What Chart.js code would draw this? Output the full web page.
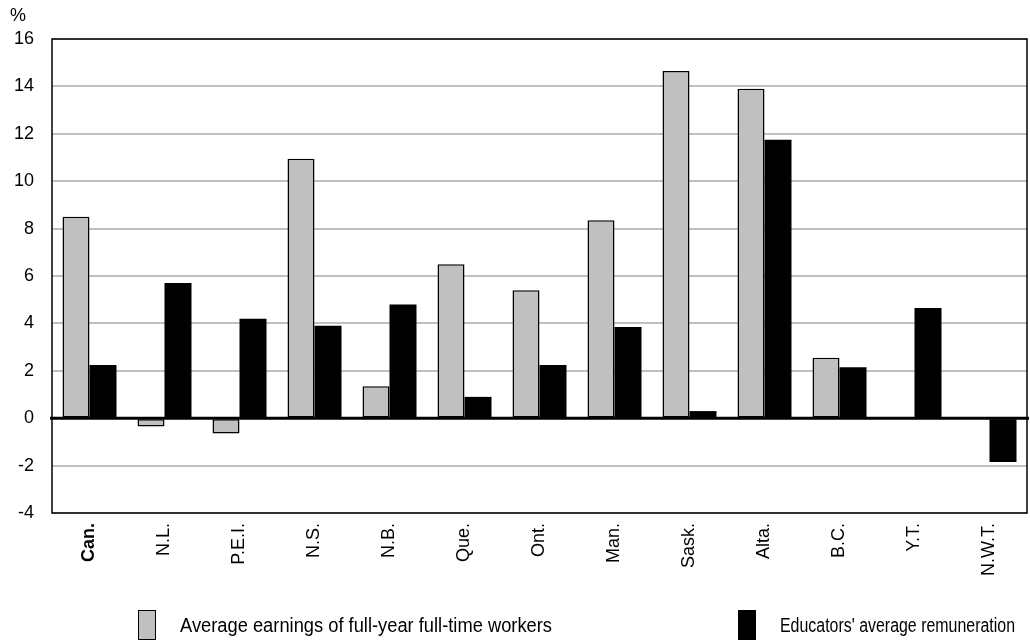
<!DOCTYPE html>
<html>
<head>
<meta charset="utf-8">
<script src="https://cdn.jsdelivr.net/npm/chart.js@4.4.0/dist/chart.umd.min.js"></script>
<style>
  body { margin: 0; background: #fff; }
  #wrap { position: relative; width: 1030px; height: 644px; }
  #unit { position: absolute; left: 10px; top: 5px; font: 18px 'Liberation Sans', Arial, sans-serif; color: #000; }
  #legend { position: absolute; top: 610px; left: 0; width: 1030px; height: 30px;
            font: 20px 'Liberation Sans Narrow', 'Liberation Sans', Arial, sans-serif; color: #000; }
  .item { position: absolute; top: 0; display: flex; align-items: center; height: 30px; white-space: nowrap; }
  .box { width: 16px; height: 28px; border: 1px solid #000; margin-right: 24px; flex: none; }
  .item span { display: inline-block; transform-origin: left center; }
</style>
</head>
<body>
<div id="wrap">
  <canvas id="chart" width="1030" height="644"></canvas>
  <div id="unit">%</div>
  <div id="legend"></div>
</div>
<script>
// -------------------------------
// Data
// -------------------------------
const categories = ["Can.", "N.L.", "P.E.I.", "N.S.", "N.B.", "Que.", "Ont.", "Man.", "Sask.", "Alta.", "B.C.", "Y.T.", "N.W.T."];
const fullTimeEarnings = [8.5, -0.35, -0.65, 10.95, 1.35, 6.5, 5.4, 8.35, 14.65, 13.9, 2.55, null, null];
const educatorsPay = [2.25, 5.7, 4.2, 3.9, 4.8, 0.9, 2.25, 3.85, 0.3, 11.75, 2.15, 4.65, -1.85];
const seriesNames = ["Average earnings of full-year full-time workers", "Educators' average remuneration"];
const yTicks = { min: -4, max: 16, step: 2 };

const narrow = "'Liberation Sans Narrow', 'Liberation Sans', Arial, sans-serif";

// frame round the plot area
const frame = {
    id: 'frame',
    afterDraw(chart) {
        const a = chart.chartArea, c = chart.ctx;
        c.save();
        c.strokeStyle = '#000';
        c.lineWidth = 1.5;
        c.strokeRect(a.left, a.top, a.right - a.left, a.bottom - a.top);
        // zero line on top of bars
        const y0 = chart.scales.y.getPixelForValue(0);
        c.lineWidth = 3;
        c.beginPath();
        c.moveTo(a.left - 2, y0);
        c.lineTo(a.right + 2, y0);
        c.stroke();
        c.restore();
    }
};

const ctx = document.getElementById('chart').getContext('2d');
const chart = new Chart(ctx, {
    type: 'bar',
    data: {
        labels: categories,
        datasets: [
            {
                label: seriesNames[0],
                data: fullTimeEarnings,
                backgroundColor: '#c0c0c0',
                borderColor: '#000',
                borderWidth: 1.5,
                borderSkipped: false
            },
            {
                label: seriesNames[1],
                data: educatorsPay,
                backgroundColor: '#000',
                borderColor: '#000',
                borderWidth: 0
            }
        ]
    },
    plugins: [frame],
    options: {
        responsive: false,
        animation: false,
        layout: { padding: { top: 39, right: 3, left: 0, bottom: 0 } },
        datasets: { bar: { categoryPercentage: 0.72, barPercentage: 1.0 } },
        plugins: {
            legend: { display: false },
            tooltip: { enabled: false }
        },
        scales: {
            x: {
                grid: { display: false },
                border: { display: false },
                ticks: {
                    color: '#000',
                    minRotation: 90,
                    maxRotation: 90,
                    padding: 2,
                    font: c => ({ family: narrow, size: 18, weight: c.index === 0 ? 'bold' : 'normal' })
                },
                afterFit: s => { s.height = 131; }
            },
            y: {
                min: yTicks.min,
                max: yTicks.max,
                ticks: {
                    stepSize: yTicks.step,
                    color: '#000',
                    padding: 18,
                    font: { family: "'Liberation Sans', Arial, sans-serif", size: 18 }
                },
                grid: { color: '#c0c0c0', lineWidth: 2, drawTicks: false },
                border: { display: false },
                afterFit: s => { s.width = 52; }
            }
        }
    }
});

// -------------------------------
// Legend (real text, laid out under the chart)
// -------------------------------
const legend = document.getElementById('legend');
const legendLeft = [138, 738];
const legendTextWidth = [372, 235];
const legendFill = ['#c0c0c0', '#000'];
seriesNames.forEach((name, i) => {
    const item = document.createElement('div');
    item.className = 'item';
    item.style.left = legendLeft[i] + 'px';
    item.innerHTML = `<div class="box" style="background:${legendFill[i]}"></div><span>${name}</span>`;
    legend.appendChild(item);
    // squeeze text to the condensed width of the original
    const span = item.querySelector('span');
    const w = span.getBoundingClientRect().width;
    if (w > 0) span.style.transform = `scaleX(${legendTextWidth[i] / w})`;
});
</script>
</body>
</html>
